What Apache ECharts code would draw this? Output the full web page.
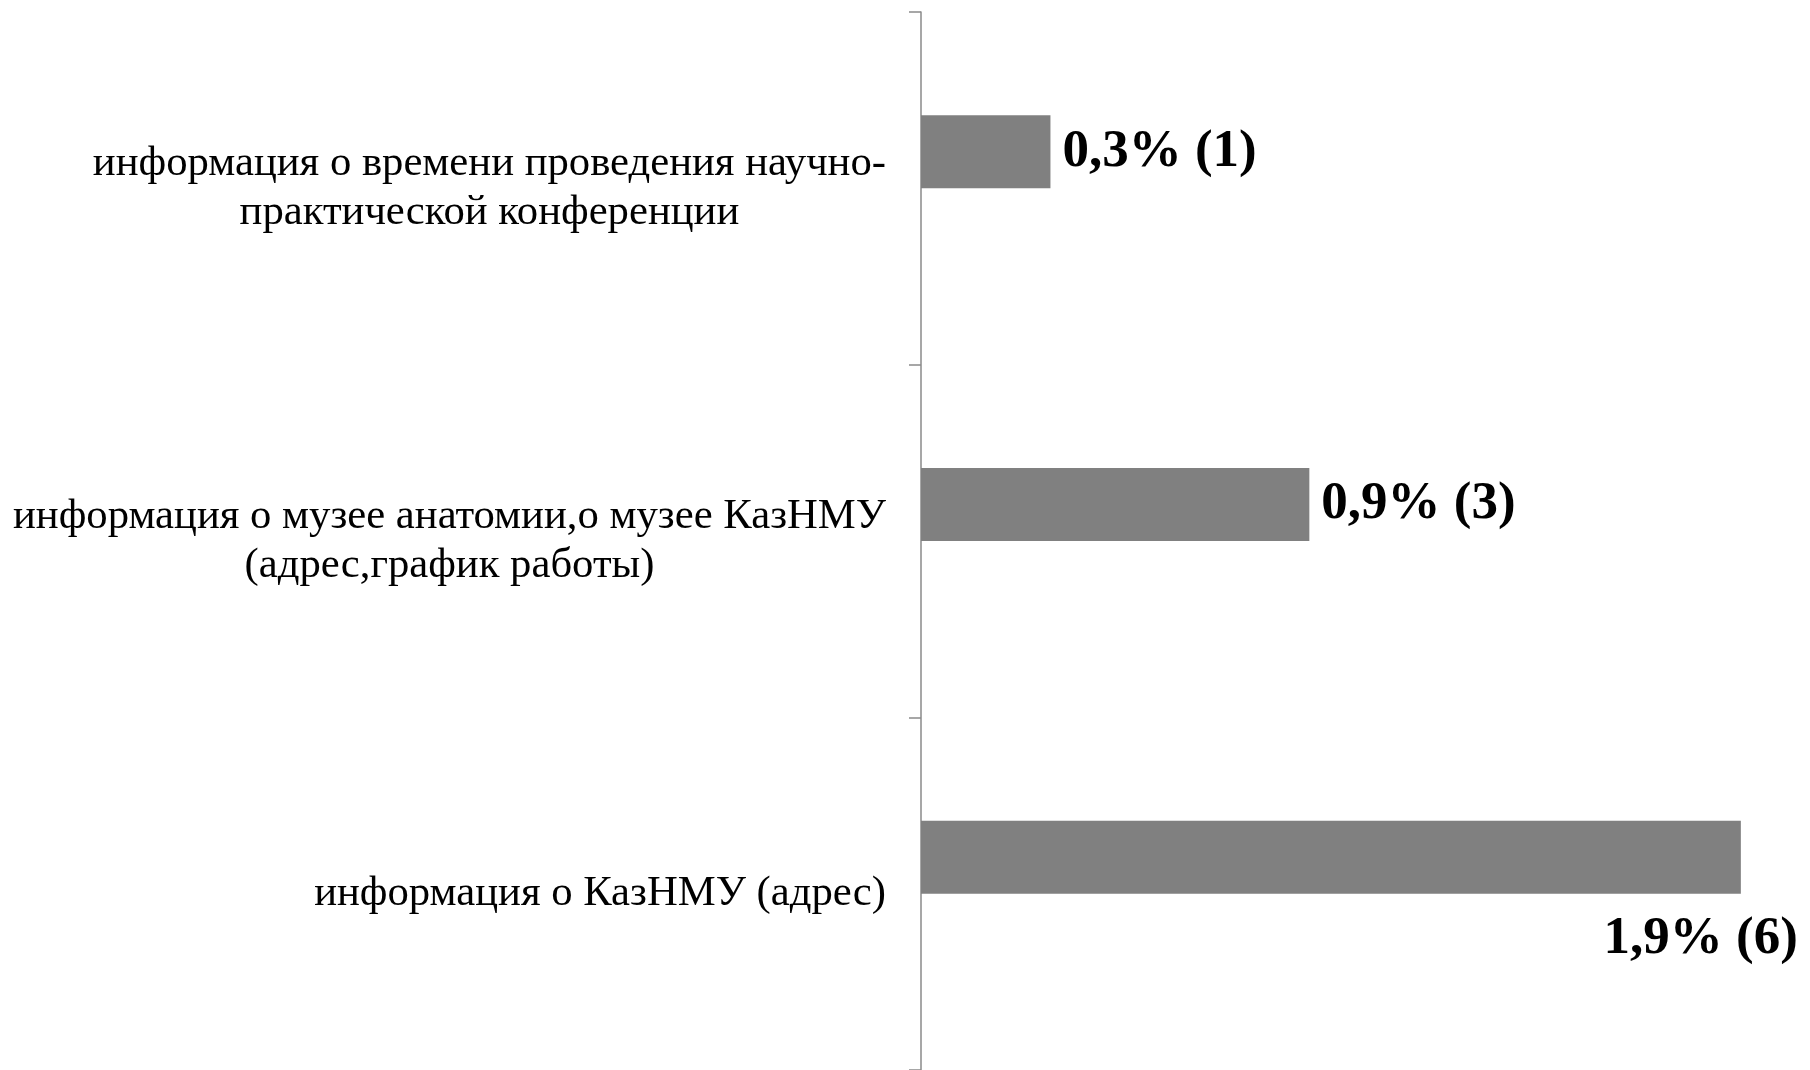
<!DOCTYPE html>
<html><head><meta charset="utf-8">
<script src="https://cdn.jsdelivr.net/npm/echarts@6/dist/echarts.min.js"></script>
<style>html,body{margin:0;padding:0;background:#fff}#c{width:1810px;height:1070px}</style>
</head><body><div id="c"></div>
<script>
// categories listed bottom to top (ECharts category y-axis starts at bottom)
var categories = [
  'информация о КазНМУ (адрес)',
  'информация о музее анатомии,о музее КазНМУ\n(адрес,график работы)',
  'информация о времени проведения научно-\nпрактической конференции'
];
var percents = [1.9, 0.9, 0.3];
var counts = [6, 3, 1];

var chart = echarts.init(document.getElementById('c'));
var data = percents.map(function (v, i) {
  var item = { value: v };
  if (i === 0) {
    item.label = { position: ['100%', '100%'], align: 'right', verticalAlign: 'top', offset: [57, 19] };
  }
  return item;
});
chart.setOption({
  backgroundColor: '#ffffff',
  animation: false,
  grid: { left: 921, right: 26, top: 12, bottom: -4, containLabel: false },
  xAxis: { type: 'value', min: 0, max: 2, show: false },
  yAxis: {
    type: 'category',
    data: categories,
    axisLine: { lineStyle: { color: '#8a8a8a', width: 1.5 } },
    axisTick: { show: true, length: 12, lineStyle: { color: '#8a8a8a', width: 1.5 } },
    axisLabel: {
      margin: 35,
      color: '#000',
      fontFamily: 'Liberation Serif',
      fontSize: 42.7,
      lineHeight: 49,
      formatter: function (s) {
        return s.split('\n').map(function (l) { return '{c|' + l + '}'; }).join('\n');
      },
      rich: { c: { align: 'center', fontFamily: 'Liberation Serif', fontSize: 42.7, lineHeight: 49, color: '#000' } }
    },
    splitLine: { show: false }
  },
  series: [
    {
      type: 'bar',
      data: data,
      barWidth: 73,
      barGap: '0%',
      itemStyle: { color: '#808080' },
      label: {
        show: true,
        position: 'right',
        distance: 12,
        color: '#000',
        fontFamily: 'Liberation Serif',
        fontWeight: 'bold',
        fontSize: 53,
        formatter: function (p) {
          return String(percents[p.dataIndex]).replace('.', ',') + '% (' + counts[p.dataIndex] + ')';
        }
      }
    },
    {
      type: 'bar',
      data: percents.map(function () { return null; }),
      barWidth: 73,
      barGap: '0%',
      itemStyle: { color: '#808080' }
    }
  ]
});
</script></body></html>
